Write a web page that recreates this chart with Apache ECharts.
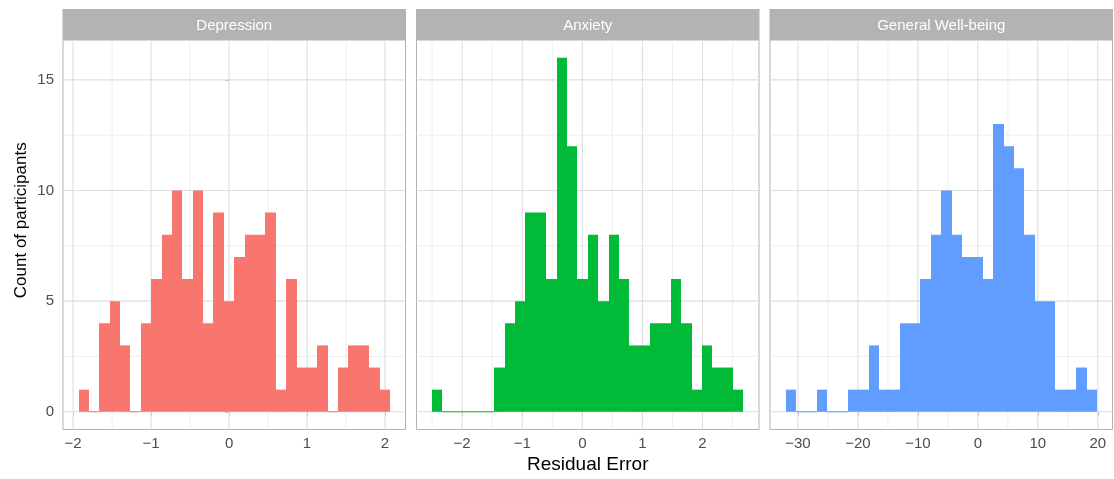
<!DOCTYPE html>
<html>
<head>
<meta charset="utf-8">
<script src="https://cdn.jsdelivr.net/npm/echarts@6/dist/echarts.min.js"></script>
<style>
  html, body { margin: 0; padding: 0; background: #ffffff; }
  #chart { width: 1114px; height: 479px; }
</style>
</head>
<body>
<div id="chart"></div>
<script>
// ---- data ---------------------------------------------------------------
const panelNames = ['Depression', 'Anxiety', 'General Well-being'];
const panelColors = ['#F8766D', '#00BA38', '#619CFF'];

// participant counts per residual bin (30 bins per measure)
const depressionCounts = [1, 0, 4, 5, 3, 0, 4, 6, 8, 10, 6, 10, 4, 9, 5, 7, 8, 8, 9, 1, 6, 2, 2, 3, 0, 2, 3, 3, 2, 1];
const anxietyCounts    = [1, 0, 0, 0, 0, 0, 2, 4, 5, 9, 9, 6, 16, 12, 6, 8, 5, 8, 6, 3, 3, 4, 4, 6, 4, 1, 3, 2, 2, 1];
const wellbeingCounts  = [1, 0, 0, 1, 0, 0, 1, 1, 3, 1, 1, 4, 4, 6, 8, 10, 8, 7, 7, 6, 13, 12, 11, 8, 5, 5, 1, 1, 2, 1];

// left edge of the first bin and the bin width of each histogram
const binStarts = [-1.93, -2.5, -32.07];
const binWidths = [0.1331, 0.1727, 1.731];

// tick labels
const xTicksDepression = [-2, -1, 0, 1, 2];
const xTicksAnxiety    = [-2, -1, 0, 1, 2];
const xTicksWellbeing  = [-30, -20, -10, 0, 10, 20];
const yTicks = [0, 5, 10, 15];

const xTitle = 'Residual Error';
const yTitle = 'Count of participants';

// ---- layout -------------------------------------------------------------
const FONT = "'Liberation Sans', Arial, Helvetica, sans-serif";
const panelLefts = [63, 416.5, 770];
const panelWidth = 342.5;
const panelTop = 40;
const panelBottom = 429.5;
const stripTop = 9;
const GREY70 = '#B3B3B3';
const TEXT_GREY = '#4D4D4D';

const countSets = [depressionCounts, anxietyCounts, wellbeingCounts];
const tickSets = [xTicksDepression, xTicksAnxiety, xTicksWellbeing];

const maxCount = Math.max(...countSets.map(c => Math.max(...c)));
const yMin = -0.05 * maxCount;
const yMax = maxCount * 1.05;

const minus = v => String(v).replace('-', '\u2212');

// minor grid positions: halfway between majors, plus half a step past each end
function minorValues(ticks, lo, hi) {
  const step = ticks[1] - ticks[0];
  const out = [];
  for (let v = ticks[0] - step / 2; v <= ticks[ticks.length - 1] + step / 2 + 1e-9; v += step) {
    if (v > lo && v < hi) out.push(v);
  }
  return out;
}

const grids = [], xAxes = [], yAxes = [], series = [], graphics = [];

countSets.forEach((counts, i) => {
  const start = binStarts[i], w = binWidths[i];
  const end = start + w * counts.length;
  const pad = 0.05 * (end - start);
  const xMin = start - pad, xMax = end + pad;

  grids.push({
    left: panelLefts[i], top: panelTop, width: panelWidth, height: panelBottom - panelTop,
    show: true, borderColor: GREY70, borderWidth: 1, backgroundColor: 'transparent'
  });

  xAxes.push({
    type: 'value', gridIndex: i, min: xMin, max: xMax,
    axisLine: { show: false },
    splitLine: { show: false },
    axisTick: { show: true, customValues: tickSets[i], length: 4, lineStyle: { color: GREY70, width: 1 } },
    axisLabel: {
      customValues: tickSets[i], formatter: minus,
      color: TEXT_GREY, fontSize: 15, fontFamily: FONT, margin: 7
    }
  });

  yAxes.push({
    type: 'value', gridIndex: i, min: yMin, max: yMax,
    axisLine: { show: false },
    splitLine: { show: false },
    axisTick: { show: i === 0, customValues: yTicks, length: 4, lineStyle: { color: GREY70, width: 1 } },
    axisLabel: {
      show: i === 0, customValues: yTicks, formatter: minus,
      color: TEXT_GREY, fontSize: 15, fontFamily: FONT, margin: 9
    }
  });

  // grid lines: [value, isMajor, isVertical]
  const lines = [];
  tickSets[i].forEach(v => lines.push([v, 1, 1]));
  minorValues(tickSets[i], xMin, xMax).forEach(v => lines.push([v, 0, 1]));
  yTicks.forEach(v => lines.push([v, 1, 0]));
  minorValues(yTicks, yMin, yMax).forEach(v => lines.push([v, 0, 0]));

  series.push({
    type: 'custom', xAxisIndex: i, yAxisIndex: i, z: 1, silent: true,
    data: lines,
    encode: { x: 0, y: 0 },
    renderItem: (params, api) => {
      const v = api.value(0), major = api.value(1) === 1, vertical = api.value(2) === 1;
      const a = vertical ? api.coord([v, yMin]) : api.coord([xMin, v]);
      const b = vertical ? api.coord([v, yMax]) : api.coord([xMax, v]);
      return {
        type: 'line',
        shape: { x1: a[0], y1: a[1], x2: b[0], y2: b[1] },
        style: { stroke: major ? '#DEDEDE' : '#EBEBEB', lineWidth: major ? 1.1 : 0.8 }
      };
    }
  });

  // histogram bars: [left edge, right edge, count]
  const bars = counts.map((c, k) => [start + k * w, start + (k + 1) * w, c]);
  series.push({
    type: 'custom', name: panelNames[i], xAxisIndex: i, yAxisIndex: i, z: 2,
    data: bars,
    encode: { x: [0, 1], y: 2 },
    renderItem: (params, api) => {
      const a = api.coord([api.value(0), 0]);
      const b = api.coord([api.value(1), api.value(2)]);
      const x0 = Math.round(a[0]), x1 = Math.round(b[0]);
      let y = b[1], h = a[1] - b[1];
      if (h < 1) { y = a[1] - 0.5; h = 1; }
      return {
        type: 'rect',
        shape: { x: x0, y: y, width: x1 - x0, height: h },
        style: { fill: panelColors[i] }
      };
    }
  });

  // facet strip
  graphics.push({
    type: 'rect', left: panelLefts[i] - 0.5, top: stripTop,
    shape: { width: panelWidth + 1, height: panelTop - stripTop },
    style: { fill: GREY70 }, silent: true
  });
  graphics.push({
    type: 'text', x: panelLefts[i] + panelWidth / 2, y: (stripTop + panelTop) / 2 + 1.5,
    style: {
      text: panelNames[i], fill: '#FFFFFF', font: '15px ' + FONT,
      textAlign: 'center', textVerticalAlign: 'middle'
    }, silent: true
  });
});

// axis titles
graphics.push({
  type: 'text', x: (panelLefts[0] + panelLefts[2] + panelWidth) / 2, y: 465,
  style: { text: xTitle, fill: '#000000', font: '19px ' + FONT, textAlign: 'center', textVerticalAlign: 'middle' },
  silent: true
});
graphics.push({
  type: 'text', x: 21, y: (stripTop + panelBottom) / 2 + 1, rotation: Math.PI / 2,
  style: { text: yTitle, fill: '#000000', font: '17px ' + FONT, textAlign: 'center', textVerticalAlign: 'middle' },
  silent: true
});

const chart = echarts.init(document.getElementById('chart'), null, { renderer: 'canvas' });
chart.setOption({
  animation: false,
  backgroundColor: '#FFFFFF',
  grid: grids,
  xAxis: xAxes,
  yAxis: yAxes,
  series: series,
  graphic: graphics
});
</script>
</body>
</html>
